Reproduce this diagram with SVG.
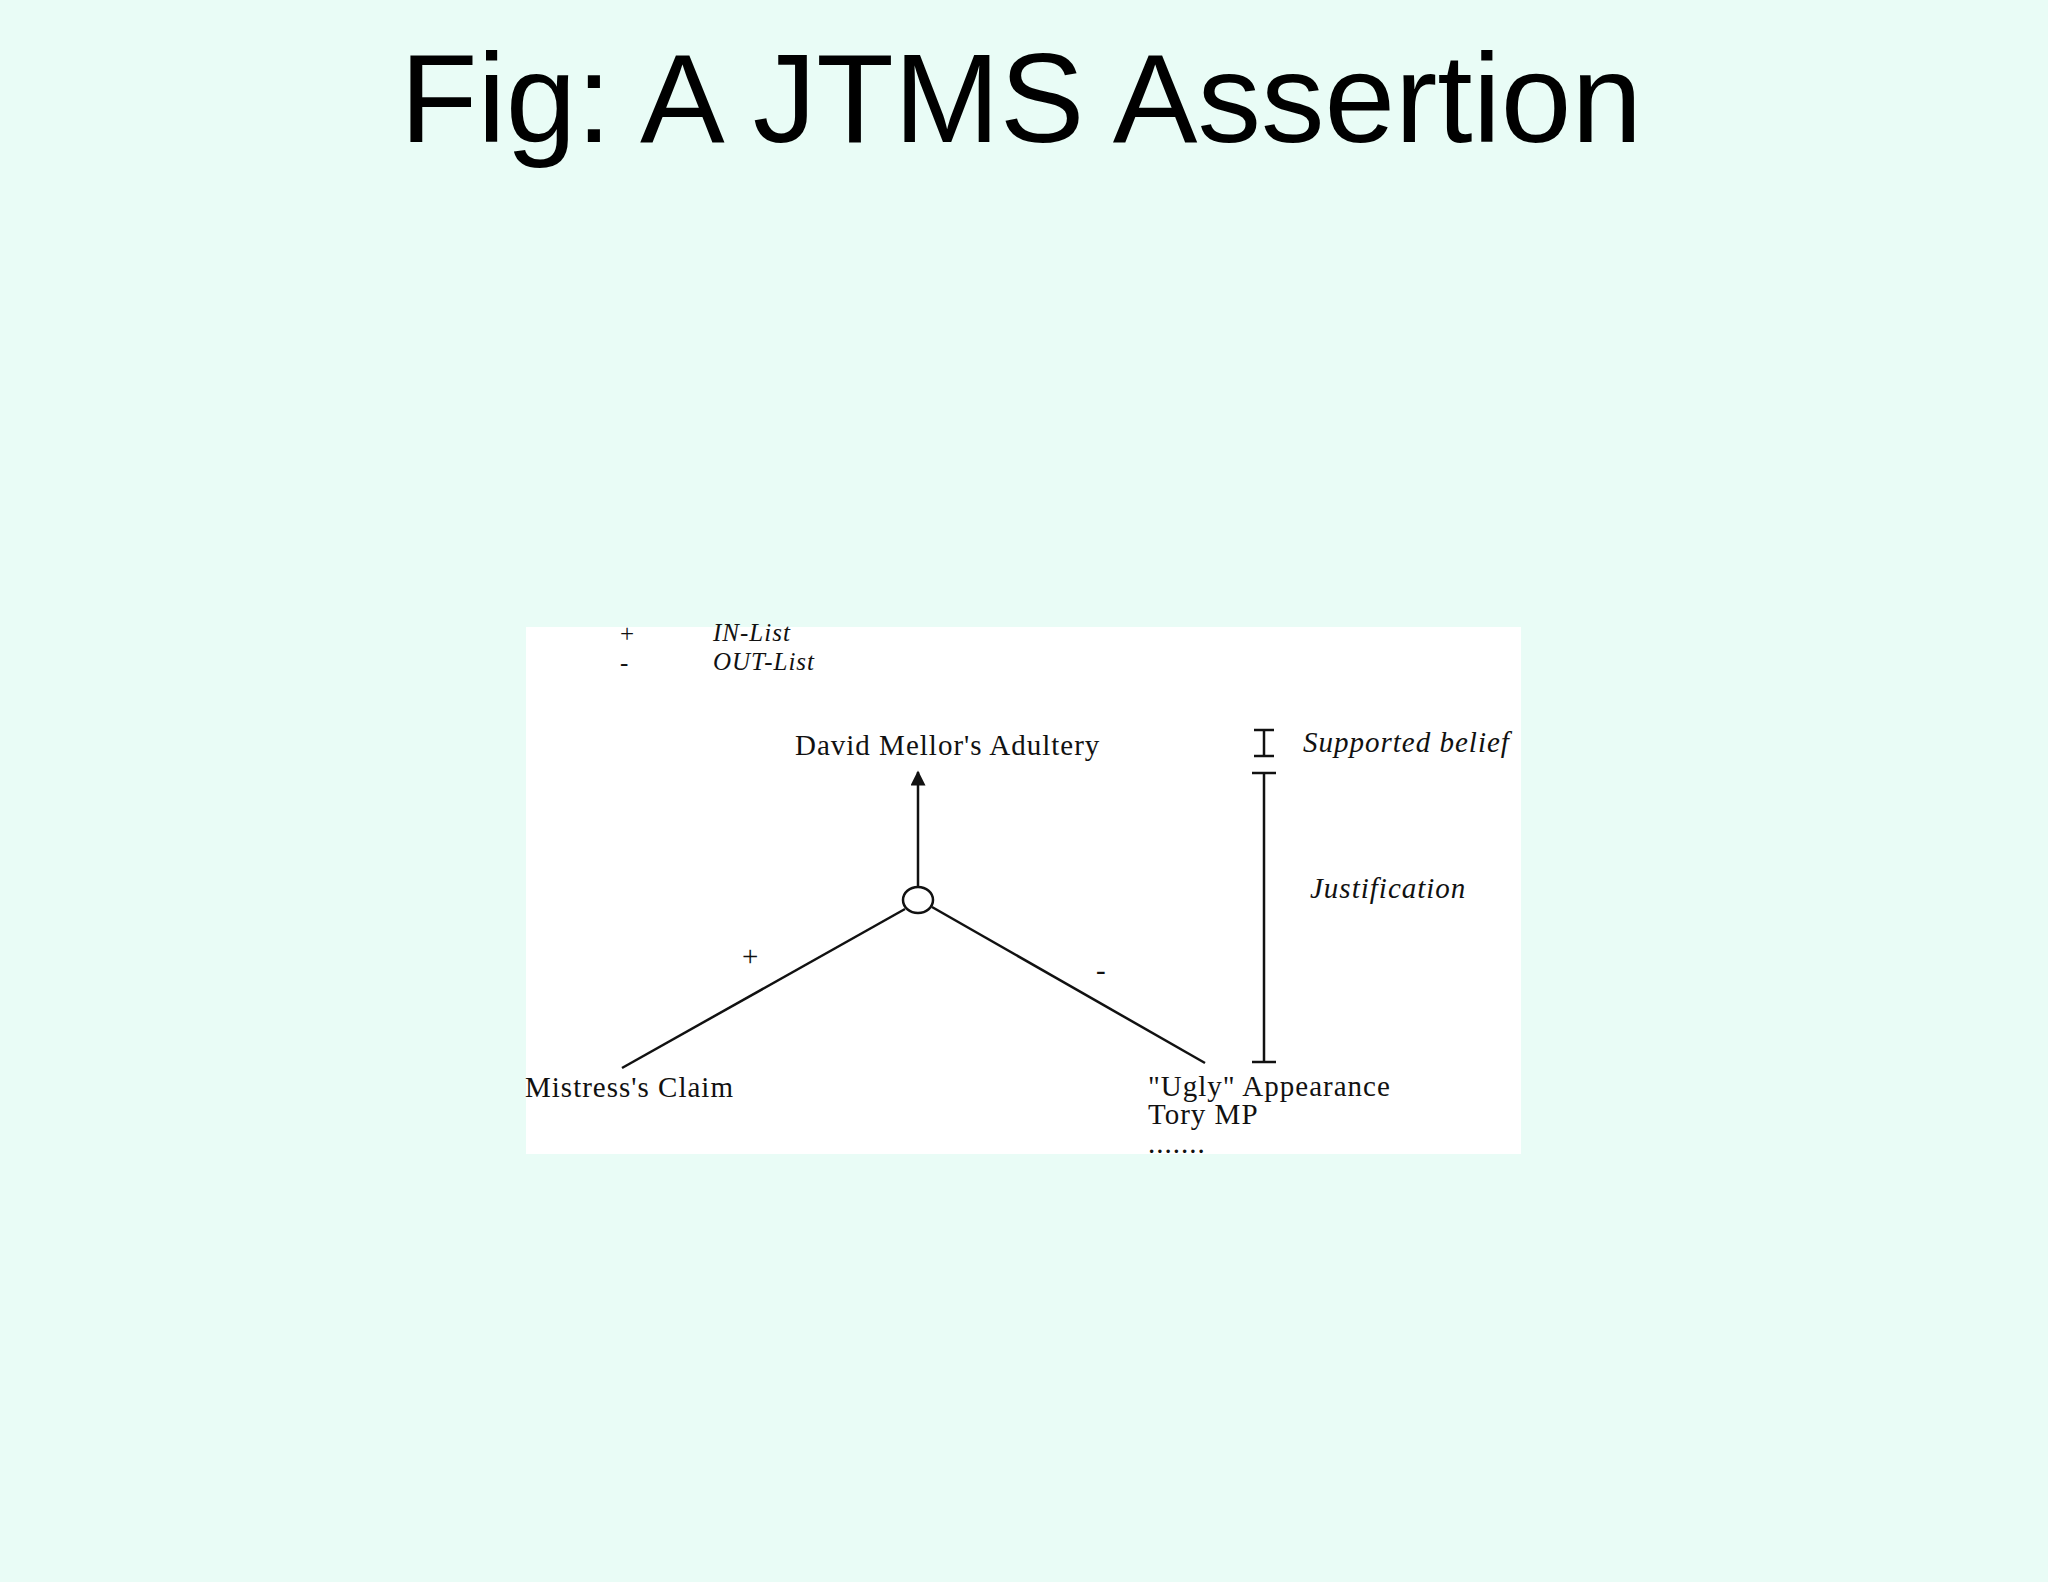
<svg xmlns="http://www.w3.org/2000/svg" width="2048" height="1582" viewBox="0 0 2048 1582">
<defs>
<style>
.t{font-family:"Liberation Serif",serif;font-size:29px;letter-spacing:1px;fill:#111}
.s{font-size:25px}
.i{font-style:italic}
.l{stroke:#111;stroke-width:2.5;fill:none}
</style>
<marker id="ah" viewBox="0 0 10 10" refX="9" refY="5" markerWidth="14" markerHeight="6" orient="auto" markerUnits="strokeWidth"><path d="M0,0L10,5L0,10z" fill="#111"/></marker>
</defs>
<rect width="2048" height="1582" fill="#e9fcf6"/>
<text x="1021" y="142" text-anchor="middle" font-family="Liberation Sans,Arial,sans-serif" font-size="127" fill="#000">Fig: A JTMS Assertion</text>
<rect x="526" y="627" width="995" height="527" fill="#fff"/>
<g id="legend">
<text class="t s" x="620" y="642">+</text><text class="t i s" x="713" y="641">IN-List</text>
<text class="t s" x="620" y="671">-</text><text class="t i s" x="713" y="670">OUT-List</text>
</g>
<g id="connectors">
<line class="l" x1="918" y1="887" x2="918" y2="772" marker-end="url(#ah)"/>
<line class="l" x1="905" y1="909" x2="622" y2="1068"/>
<line class="l" x1="932" y1="907" x2="1205" y2="1063"/>
<line class="l" x1="1264" y1="730" x2="1264" y2="756"/>
<line class="l" x1="1254" y1="730" x2="1274" y2="730"/>
<line class="l" x1="1254" y1="756" x2="1274" y2="756"/>
<line class="l" x1="1264" y1="773" x2="1264" y2="1062"/>
<line class="l" x1="1252" y1="773" x2="1276" y2="773"/>
<line class="l" x1="1252" y1="1062" x2="1276" y2="1062"/>
<text class="t" x="742" y="966">+</text>
<text class="t" x="1096" y="980">-</text>
</g>
<g id="n-adultery"><text class="t" x="795" y="755">David Mellor's Adultery</text></g>
<g id="n-just"><ellipse cx="918" cy="900" rx="15" ry="13" fill="#fff" stroke="#111" stroke-width="2.5"/></g>
<g id="n-mistress"><text class="t" x="525" y="1097">Mistress's Claim</text></g>
<g id="n-ugly"><text class="t" x="1148" y="1096">"Ugly" Appearance</text><text class="t" x="1148" y="1124">Tory MP</text><text class="t" x="1148" y="1153">.......</text></g>
<g id="labels"><text class="t i" x="1303" y="752">Supported belief</text><text class="t i" x="1310" y="898">Justification</text></g>
</svg>
